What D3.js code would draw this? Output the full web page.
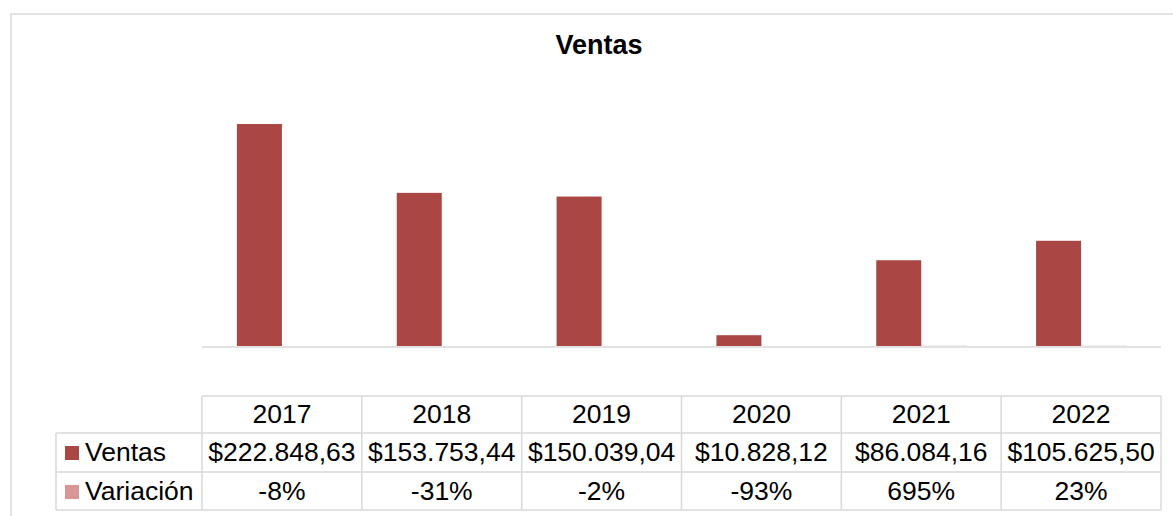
<!DOCTYPE html>
<html>
<head>
<meta charset="utf-8">
<script src="https://cdn.jsdelivr.net/npm/d3@7"></script>
<style>
  body { margin: 0; background: #fff; }
  text { font-family: Arial, "Liberation Sans", sans-serif; fill: #000; }
</style>
</head>
<body>
<div class="chart"></div>
<script>
// data
var years = ['2017', '2018', '2019', '2020', '2021', '2022'];
var ventas = [222848.63, 153753.44, 150039.04, 10828.12, 86084.16, 105625.50];
var variacion = [-0.08, -0.31, -0.02, -0.93, 6.95, 0.23];
var ventasLabels = ['$222.848,63', '$153.753,44', '$150.039,04', '$10.828,12', '$86.084,16', '$105.625,50'];
var variacionLabels = ['-8%', '-31%', '-2%', '-93%', '695%', '23%'];
var seriesNames = ['Ventas', 'Variación'];
var colors = ['#AA4643', '#D99694'];

var width = 1173, height = 516;
var grid = '#d9d9d9';
var fontSize = '26.5px';

var svg = d3.select('.chart').append('svg')
    .attr('width', width)
    .attr('height', height);

// chart area border (runs past the window on the right and bottom)
svg.append('rect')
    .attr('x', 11)
    .attr('y', 14)
    .attr('width', 1200)
    .attr('height', 520)
    .attr('fill', '#fff')
    .attr('stroke', grid)
    .attr('stroke-width', 1.5);

// title
svg.append('text')
    .attr('x', 599)
    .attr('y', 54)
    .attr('text-anchor', 'middle')
    .style('font-size', '27px')
    .style('font-weight', 'bold')
    .text('Ventas');

// x scale: one band per year, same bands used by the data table
var xScale = d3.scaleBand()
    .domain(years)
    .range([202, 1161]);

var yScale = d3.scaleLinear()
    .domain([0, 250000])
    .range([346, 97]);

var barW = 45;

// Ventas bars (left half of each cluster)
svg.selectAll('.bar-ventas')
    .data(ventas)
    .enter().append('rect')
    .attr('class', 'bar-ventas')
    .attr('x', function (d, i) { return xScale(years[i]) + xScale.bandwidth() / 2 - barW; })
    .attr('y', function (d) { return yScale(d); })
    .attr('width', barW)
    .attr('height', function (d) { return yScale(0) - yScale(d); })
    .attr('fill', colors[0]);

// Variación bars (right half, practically flat at this scale)
svg.selectAll('.bar-var')
    .data(variacion)
    .enter().append('rect')
    .attr('class', 'bar-var')
    .attr('x', function (d, i) { return xScale(years[i]) + xScale.bandwidth() / 2; })
    .attr('y', function (d) { return Math.min(yScale(d), yScale(0)); })
    .attr('width', barW)
    .attr('height', function (d) { return Math.abs(yScale(0) - yScale(d)); })
    .attr('fill', colors[1])
    .attr('stroke', colors[1])
    .attr('stroke-width', 0.5)
    .attr('stroke-opacity', function (d) { return d > 0 ? 0.6 : 0; });

// category axis line
svg.append('line')
    .attr('x1', 202)
    .attr('x2', 1161)
    .attr('y1', yScale(0) + 1)
    .attr('y2', yScale(0) + 1)
    .attr('stroke', grid)
    .attr('stroke-width', 1.5);

// data table
var rowTop = [396, 433, 472, 510];
var labelLeft = 56;
var table = svg.append('g');

// horizontal rules
table.append('line')
    .attr('x1', 202).attr('x2', 1161)
    .attr('y1', rowTop[0]).attr('y2', rowTop[0]);
[rowTop[1], rowTop[2], rowTop[3]].forEach(function (y) {
    table.append('line')
        .attr('x1', labelLeft).attr('x2', 1161)
        .attr('y1', y).attr('y2', y);
});

// vertical rules
table.append('line')
    .attr('x1', labelLeft).attr('x2', labelLeft)
    .attr('y1', rowTop[1]).attr('y2', rowTop[3]);
years.concat(['end']).forEach(function (yr, i) {
    var x = i < years.length ? xScale(yr) : xScale(years[years.length - 1]) + xScale.bandwidth();
    table.append('line')
        .attr('x1', x).attr('x2', x)
        .attr('y1', rowTop[0]).attr('y2', rowTop[3]);
});
table.selectAll('line')
    .attr('stroke', grid)
    .attr('stroke-width', 1.5);

// header row: years
table.selectAll('.hdr')
    .data(years)
    .enter().append('text')
    .attr('class', 'hdr')
    .attr('x', function (d) { return xScale(d) + xScale.bandwidth() / 2; })
    .attr('y', 423)
    .attr('text-anchor', 'middle')
    .style('font-size', fontSize)
    .text(function (d) { return d; });

// value rows
[ventasLabels, variacionLabels].forEach(function (labels, r) {
    var baseY = r === 0 ? 461 : 500;
    table.selectAll('.val' + r)
        .data(labels)
        .enter().append('text')
        .attr('class', 'val' + r)
        .attr('x', function (d, i) { return xScale(years[i]) + xScale.bandwidth() / 2; })
        .attr('y', baseY)
        .attr('text-anchor', 'middle')
        .style('font-size', fontSize)
        .text(function (d) { return d; });

    // legend key + series name
    table.append('rect')
        .attr('x', 65)
        .attr('y', baseY - 15)
        .attr('width', 14)
        .attr('height', 14)
        .attr('fill', colors[r]);
    table.append('text')
        .attr('x', 85)
        .attr('y', baseY)
        .style('font-size', fontSize)
        .text(seriesNames[r]);
});
</script>
</body>
</html>
